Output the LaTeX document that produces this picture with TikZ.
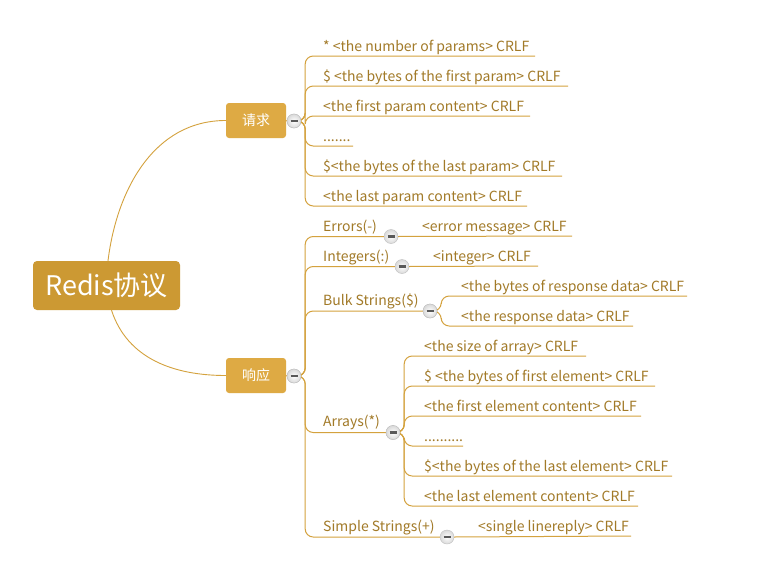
\documentclass[tikz,border=0pt]{standalone}
\usepackage{fontspec}
\setmainfont{Noto Sans CJK SC}
\definecolor{rootfill}{RGB}{204,153,51}
\definecolor{subfill}{RGB}{222,170,68}
\definecolor{leaftxt}{RGB}{162,122,40}
\definecolor{branchc}{RGB}{212,162,62}
\newcommand\mmleaf[6]{%
  \node[leaf] (#1) at (#4,#3-5) {#6};
  \coordinate (#1e) at (#5,#3);
  \draw[branch] (#2.east) -- ++(4,0) |- (#1e);}
\begin{document}
\begin{tikzpicture}[x=1pt,y=-1pt,
  rootbox/.style={fill=rootfill, rounded corners=4pt, text=white, minimum width=147pt, minimum height=49pt, inner sep=0pt, font=\fontsize{27}{30}\selectfont},
  subbox/.style={fill=subfill, rounded corners=3pt, text=white, minimum width=60pt, minimum height=35pt, inner sep=0pt, font=\fontsize{14}{16}\selectfont},
  leaf/.style={anchor=base west, text=leaftxt, inner sep=0pt, font=\fontsize{14}{16}\selectfont},
  branch/.style={draw=branchc, line width=1pt, rounded corners=8pt},
  curve/.style={draw=branchc, line width=0.9pt},
  coll/.style={circle, minimum size=14pt, inner sep=0pt, draw=gray!50, inner color=white, outer color=gray!30,
    path picture={\draw[line width=2.2pt, gray!70!black] ([xshift=-3.5pt]path picture bounding box.center) -- ([xshift=3.5pt]path picture bounding box.center);}}
]
\useasboundingbox[fill=white] (0,0) rectangle (763,570);

% main nodes
\node[rootbox] (root) at (106.5,285.5) {Redis协议};
\node[subbox] (rq) at (256,120.5) {请求};
\node[subbox] (rs) at (256,375.5) {响应};
\draw[curve] ([xshift=1.5pt]root.north) to[out=83,in=180] (rq.west);
\draw[curve] ([xshift=5pt]root.south) to[out=-72,in=180] (rs.west);

% request branch
\node[coll] (rqc) at (294,121) {};
\draw[curve] (rq.east) -- (rqc.west);
\mmleaf{q1}{rqc}{56}{323}{535}{* <the number of params> CRLF}
\mmleaf{q2}{rqc}{86}{323}{568}{\$ <the bytes of the first param> CRLF}
\mmleaf{q3}{rqc}{116}{323}{530}{<the first param content> CRLF}
\mmleaf{q4}{rqc}{146}{323}{353}{.......}
\mmleaf{q5}{rqc}{176}{323}{562}{\$<the bytes of the last param> CRLF}
\mmleaf{q6}{rqc}{206}{323}{527}{<the last param content> CRLF}
\node[coll] at (rqc) {};

% response branch
\node[coll] (rsc) at (294,376) {};
\draw[curve] (rs.east) -- (rsc.west);

% Errors
\node[leaf] (err) at (323,231) {Errors(-)};
\node[coll] (errc) at (391,236.5) {};
\draw[branch] (rsc.east) -- ++(4,0) |- (errc.west);
\node[leaf] (errm) at (422,231) {<error message> CRLF};
\coordinate (errme) at (572,236);
\draw[branch] (errc.east) -- (errme);

% Integers
\node[leaf] (int) at (323,261) {Integers(:)};
\node[coll] (intc) at (402,266.5) {};
\draw[branch] (rsc.east) -- ++(4,0) |- (intc.west);
\node[leaf] (intm) at (433,261) {<integer> CRLF};
\coordinate (intme) at (538,266);
\draw[branch] (intc.east) -- (intme);

% Bulk strings
\node[leaf] (bulk) at (323,305) {Bulk Strings(\$)};
\node[coll] (bulkc) at (430,311) {};
\draw[branch] (rsc.east) -- ++(4,0) |- (bulkc.west);
\mmleaf{b1}{bulkc}{296}{461}{687}{<the bytes of response data> CRLF}
\mmleaf{b2}{bulkc}{326}{461}{633}{<the response data> CRLF}
\node[coll] at (bulkc) {};

% Arrays
\node[leaf] (arr) at (323,426) {Arrays(*)};
\node[coll] (arrc) at (393,432.5) {};
\draw[branch] (rsc.east) -- ++(4,0) |- (arrc.west);
\mmleaf{a1}{arrc}{356}{424}{586}{<the size of array> CRLF}
\mmleaf{a2}{arrc}{386}{424}{655}{\$ <the bytes of first element> CRLF}
\mmleaf{a3}{arrc}{416}{424}{641}{<the first element content> CRLF}
\mmleaf{a4}{arrc}{446}{424}{463}{..........}
\mmleaf{a5}{arrc}{476}{424}{672}{\$<the bytes of the last element> CRLF}
\mmleaf{a6}{arrc}{506}{424}{638}{<the last element content> CRLF}
\node[coll] at (arrc) {};

% Simple strings
\node[leaf] (sim) at (323,531) {Simple Strings(+)};
\node[coll] (simc) at (447,537) {};
\draw[branch] (rsc.east) -- ++(4,0) |- (simc.west);
\node[leaf] (simm) at (478,531) {<single linereply> CRLF};
\coordinate (simme) at (631,536);
\draw[branch] (simc.east) -- (simme);
\node[coll] at (rsc) {};
\end{tikzpicture}
\end{document}
